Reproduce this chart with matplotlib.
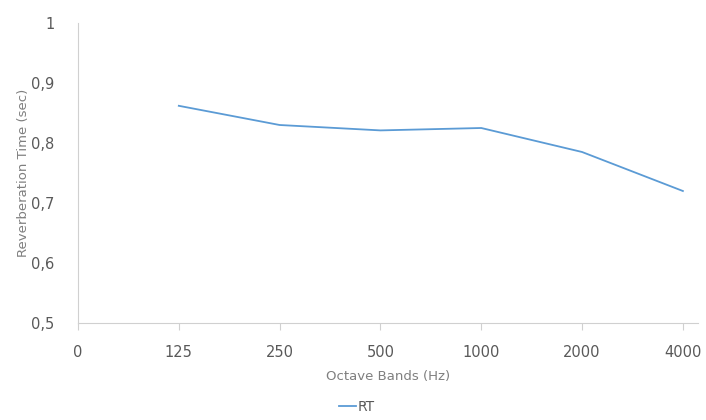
import matplotlib
matplotlib.use("Agg")
import matplotlib.pyplot as plt
from matplotlib.ticker import FuncFormatter, FixedLocator

categories = ["125", "250", "500", "1000", "2000", "4000"]
rt_values = [0.862, 0.830, 0.821, 0.825, 0.785, 0.720]
x_tick_labels = ["0"] + categories
y_ticks = [0.5, 0.6, 0.7, 0.8, 0.9, 1.0]

plt.rcParams['font.family'] = ['DejaVu Sans']

fig = plt.figure(figsize=(7.06, 4.20), dpi=100)
ax = fig.add_axes([78/706, 1-323/420, (698-78)/706, (323-23)/420])

xpos = list(range(1, len(categories) + 1))
line_color = "#5b9bd5"
ax.plot(xpos, rt_values, color=line_color, lw=1.3, label="RT")

ax.set_xlim(0, 6.15)
ax.set_ylim(0.5, 1.0)
ax.xaxis.set_major_locator(FixedLocator(list(range(0, len(categories) + 1))))
ax.set_xticklabels(x_tick_labels)
ax.set_yticks(y_ticks)
ax.yaxis.set_major_formatter(FuncFormatter(lambda v, p: "1" if abs(v-1) < 1e-9 else f"{v:.1f}".replace(".", ",")))

for s in ["top", "right"]:
    ax.spines[s].set_visible(False)
spine_c = "#d0d0d0"
ax.spines["left"].set_color(spine_c)
ax.spines["bottom"].set_color(spine_c)
ax.tick_params(axis="x", length=5, color=spine_c, pad=11, labelsize=10.5, labelcolor="#595959")
ax.tick_params(axis="y", length=0, pad=17, labelsize=10.5, labelcolor="#595959")

ax.set_xlabel("Octave Bands (Hz)", fontsize=9.5, color="#7f7f7f", labelpad=7)
ax.set_ylabel("Reverberation Time (sec)", fontsize=9.5, color="#7f7f7f", labelpad=1)

leg = fig.legend(loc="center", bbox_to_anchor=(357/706, 1-407/420), frameon=False,
                 fontsize=10, handlelength=1.2, handletextpad=0.1)
for t in leg.get_texts():
    t.set_color("#595959")

fig.savefig("out.png", dpi=100)
